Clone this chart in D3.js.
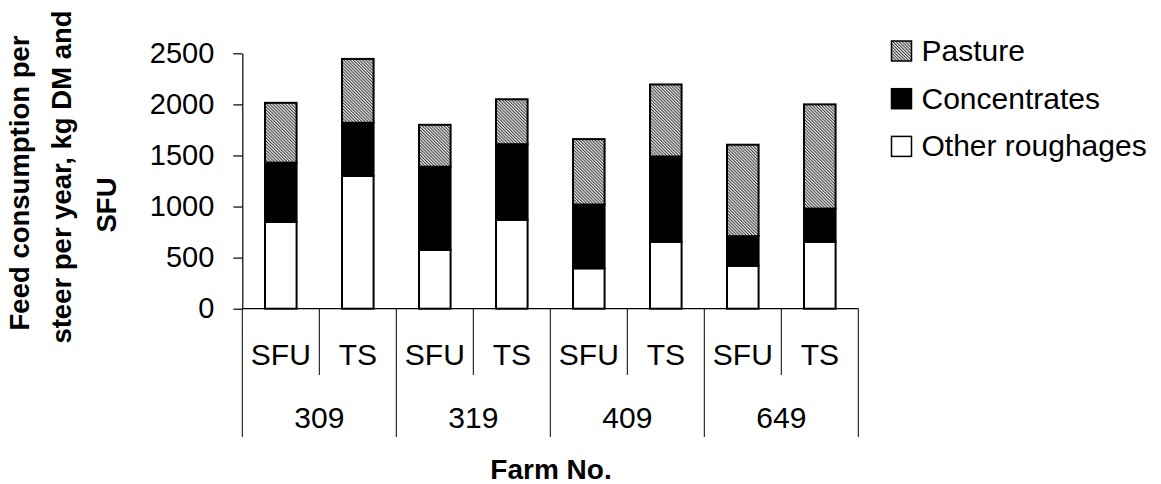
<!DOCTYPE html>
<html>
<head>
<meta charset="utf-8">
<script src="https://cdn.jsdelivr.net/npm/d3@7"></script>
<style>
  html, body { margin: 0; padding: 0; background: #fff; }
  svg { display: block; }
  text { font-family: "Liberation Sans", Arial, sans-serif; fill: #000; }
</style>
</head>
<body>
<svg id="chart" width="1161" height="484"></svg>
<script>
// Feed consumption per steer and year, by farm and feeding unit
const farms = ["309", "319", "409", "649"];
const units = ["SFU", "TS"];
const otherRoughages = [850, 1300, 575, 870, 395, 655, 420, 655];
const concentrates   = [580, 520, 815, 740, 625, 835, 290, 325];
const pasture        = [585, 625, 410, 440, 640, 705, 895, 1020];
const yTicks = [0, 500, 1000, 1500, 2000, 2500];
const seriesNames = ["Other roughages", "Concentrates", "Pasture"];

// One row per bar (farm × unit)
const rows = [];
farms.forEach((f, i) => units.forEach((u, j) => {
  const k = i * units.length + j;
  rows.push({ key: f + "-" + u, farm: f, unit: u,
    "Other roughages": otherRoughages[k],
    "Concentrates": concentrates[k],
    "Pasture": pasture[k] });
}));

const svg = d3.select("#chart");

// fine diagonal hatch for pasture
const defs = svg.append("defs");
const pat = defs.append("pattern")
  .attr("id", "hatch").attr("patternUnits", "userSpaceOnUse")
  .attr("width", 2.2).attr("height", 2.2)
  .attr("patternTransform", "rotate(-45)");
pat.append("rect").attr("width", 2.2).attr("height", 2.2).attr("fill", "#eaeaea");
pat.append("rect").attr("width", 1).attr("height", 2.2).attr("fill", "#3a3a3a");

const fills = { "Other roughages": "#fff", "Concentrates": "#000", "Pasture": "url(#hatch)" };

const plotL = 242.3, plotR = 858.3, plotTop = 53.3, plotBottom = 308.7;

const pad = 0.59;
const x = d3.scaleBand()
  .domain(rows.map(r => r.key))
  .range([plotL, plotR])
  .paddingInner(pad)
  .paddingOuter(pad / 2);

const y = d3.scaleLinear().domain([0, 2500]).range([plotBottom, plotTop]);

const stacked = d3.stack().keys(seriesNames)(rows);

// bars
svg.append("g").selectAll("g")
  .data(stacked)
  .join("g")
  .attr("fill", d => fills[d.key])
  .selectAll("rect")
  .data(d => d)
  .join("rect")
  .attr("x", d => x(d.data.key))
  .attr("width", x.bandwidth())
  .attr("y", d => y(d[1]))
  .attr("height", d => y(d[0]) - y(d[1]))
  .attr("stroke", "#000")
  .attr("stroke-width", 2);

// y axis
const yAxis = svg.append("g")
  .attr("transform", `translate(${plotL},0)`)
  .call(d3.axisLeft(y).tickValues(yTicks).tickFormat(d3.format("d"))
    .tickSize(9).tickSizeOuter(0).tickPadding(19));
yAxis.select(".domain").attr("stroke", "#000").attr("stroke-width", 1.2);
yAxis.selectAll(".tick line").attr("stroke", "#000").attr("stroke-width", 1.2);
yAxis.selectAll(".tick text")
  .style("font-family", '"Liberation Sans", Arial, sans-serif')
  .style("font-size", "29px")
  .attr("fill", "#000");

// category axis: baseline and separators
const step = x.step();
const axisG = svg.append("g");
axisG.append("line")
  .attr("x1", plotL).attr("x2", plotR)
  .attr("y1", plotBottom).attr("y2", plotBottom)
  .attr("stroke", "#000").attr("stroke-width", 1.2);

const bounds = rows.map(r => x(r.key) - step * pad / 2);
bounds.push(plotR);
axisG.selectAll("line.sep")
  .data(bounds)
  .join("line")
  .attr("class", "sep")
  .attr("x1", d => d).attr("x2", d => d)
  .attr("y1", plotBottom)
  .attr("y2", (d, i) => i % units.length === 0 ? 437 : 375)
  .attr("stroke", "#000").attr("stroke-width", 1);

axisG.selectAll("text.unit")
  .data(rows)
  .join("text")
  .attr("class", "unit")
  .attr("x", d => x(d.key) + x.bandwidth() / 2)
  .attr("y", 365)
  .attr("text-anchor", "middle")
  .style("font-size", "30px")
  .text(d => d.unit);

axisG.selectAll("text.farm")
  .data(farms)
  .join("text")
  .attr("class", "farm")
  .attr("x", f => {
    const a = x(f + "-" + units[0]), b = x(f + "-" + units[units.length - 1]);
    return (a + b + x.bandwidth()) / 2;
  })
  .attr("y", 428)
  .attr("text-anchor", "middle")
  .style("font-size", "30px")
  .text(f => f);

// axis titles
svg.append("text")
  .attr("x", 551)
  .attr("y", 479)
  .attr("text-anchor", "middle")
  .style("font-size", "28px")
  .style("font-weight", "bold")
  .text("Farm No.");

const yTitle = [
  { text: "Feed consumption per", bx: 29, cy: 183 },
  { text: "steer per year, kg DM and", bx: 71, cy: 177 },
  { text: "SFU", bx: 116, cy: 205 }
];
svg.append("g").selectAll("text")
  .data(yTitle)
  .join("text")
  .attr("transform", d => `translate(${d.bx},${d.cy}) rotate(-90)`)
  .attr("text-anchor", "middle")
  .style("font-size", "27.5px")
  .style("font-weight", "bold")
  .text(d => d.text);

// legend
const legendItems = ["Pasture", "Concentrates", "Other roughages"];
const lg = svg.append("g").attr("transform", "translate(891.5,0)");
const li = lg.selectAll("g")
  .data(legendItems)
  .join("g")
  .attr("transform", (d, i) => `translate(0,${41 + i * 47.7})`);
li.append("rect")
  .attr("width", 20).attr("height", 20)
  .attr("fill", d => fills[d])
  .attr("stroke", "#000").attr("stroke-width", 1.5);
li.append("text")
  .attr("x", 30)
  .attr("y", 20)
  .style("font-size", "30px")
  .text(d => d);
</script>
</body>
</html>
